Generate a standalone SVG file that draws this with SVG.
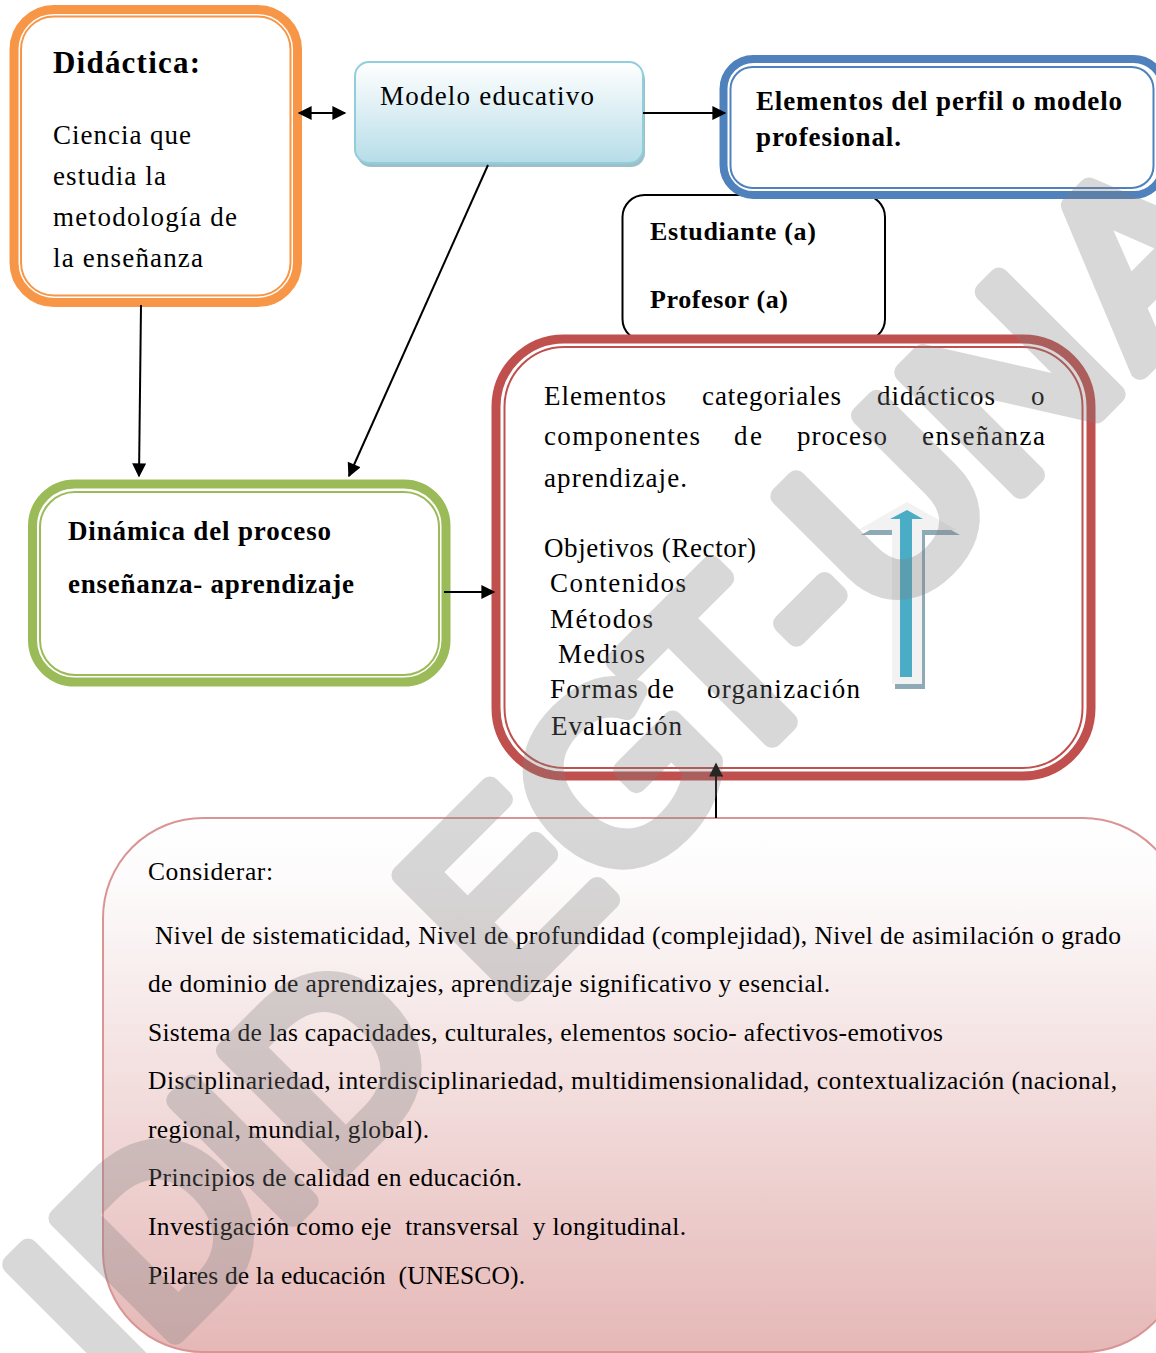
<svg xmlns="http://www.w3.org/2000/svg" width="1156" height="1353" viewBox="0 0 1156 1353">
  <defs>
    <linearGradient id="gradModelo" x1="0" y1="0" x2="0" y2="1">
      <stop offset="0" stop-color="#ffffff"/>
      <stop offset="0.45" stop-color="#dff0f5"/>
      <stop offset="1" stop-color="#b6dde8"/>
    </linearGradient>
    <linearGradient id="gradConsiderar" x1="0" y1="0" x2="0" y2="1">
      <stop offset="0" stop-color="#ffffff"/>
      <stop offset="0.12" stop-color="#fdfbfb"/>
      <stop offset="1" stop-color="#e5b8b7"/>
    </linearGradient>
    <marker id="head" viewBox="0 0 10 10" refX="9" refY="5" markerWidth="15" markerHeight="14" markerUnits="userSpaceOnUse" orient="auto-start-reverse">
      <path d="M0,0 L10,5 L0,10 z" fill="#000"/>
    </marker>
    <style>
      .t { font-family: "Liberation Serif", "DejaVu Serif", serif; fill: #000; }
      .b { font-weight: bold; }
      .conn { fill: none; stroke: #000; stroke-width: 2; marker-end: url(#head); }
      .thin { fill: none; stroke-width: 2; }
      .wm { font-family: "Liberation Sans", Arial, sans-serif; font-size: 240px; fill: #7f7f7f; stroke: #7f7f7f; stroke-width: 20; stroke-linejoin: round; }
    </style>
  </defs>

  <rect width="1156" height="1353" fill="#ffffff"/>

  <!-- Didáctica -->
  <g id="didactica">
    <rect x="14" y="9.5" width="283.5" height="293" rx="40" fill="#fff" stroke="#f79646" stroke-width="9"/>
    <rect x="21" y="16.5" width="269.5" height="279" rx="33" class="thin" stroke="#f79646"/>
    <text class="t b" x="53" y="73" font-size="31" textLength="147">Didáctica:</text>
    <text class="t" font-size="27">
      <tspan x="53" y="144" textLength="138">Ciencia que</tspan>
      <tspan x="53" y="185" textLength="113">estudia la</tspan>
      <tspan x="53" y="226" textLength="184">metodología de</tspan>
      <tspan x="53" y="267" textLength="150">la enseñanza</tspan>
    </text>
  </g>

  <!-- Modelo educativo -->
  <g id="modelo">
    <rect x="357" y="66" width="288" height="101" rx="14" fill="#9dbfca"/>
    <rect x="355" y="62" width="288" height="101" rx="14" fill="url(#gradModelo)" stroke="#92cddc" stroke-width="2"/>
    <text class="t" x="380" y="105" font-size="27" textLength="214">Modelo educativo</text>
  </g>

  <!-- Estudiante / Profesor -->
  <g id="actores">
    <rect x="622.5" y="195" width="262.5" height="146" rx="22" fill="#fff" stroke="#000" stroke-width="2"/>
    <text class="t b" font-size="26">
      <tspan x="650" y="240" textLength="166">Estudiante (a)</tspan>
      <tspan x="650" y="308" textLength="138">Profesor (a)</tspan>
    </text>
  </g>

  <!-- Elementos del perfil -->
  <g id="perfil">
    <rect x="723.5" y="59" width="440" height="136" rx="30" fill="#fff" stroke="#4f81bd" stroke-width="8"/>
    <rect x="730.5" y="67" width="423" height="121" rx="22" class="thin" stroke="#4f81bd"/>
    <text class="t b" font-size="27">
      <tspan x="756" y="110" textLength="366">Elementos del perfil o modelo</tspan>
      <tspan x="756" y="146" textLength="145">profesional.</tspan>
    </text>
  </g>

  <!-- Dinámica del proceso -->
  <g id="dinamica">
    <rect x="32.5" y="484" width="413.5" height="198" rx="42" fill="#fff" stroke="#9bbb59" stroke-width="9"/>
    <rect x="40" y="492" width="399" height="183" rx="35" class="thin" stroke="#9bbb59"/>
    <text class="t b" font-size="27">
      <tspan x="68" y="540" textLength="263">Dinámica del proceso</tspan>
      <tspan x="68" y="593" textLength="286">enseñanza- aprendizaje</tspan>
    </text>
  </g>

  <!-- Elementos categoriales -->
  <g id="categoriales">
    <rect x="496" y="339" width="595" height="437" rx="68" fill="#fff" stroke="#c0504d" stroke-width="9"/>
    <rect x="504.5" y="347" width="578" height="421" rx="60" class="thin" stroke="#c0504d"/>
    <text class="t" font-size="27">
      <tspan x="544" y="405" textLength="122">Elementos</tspan>
      <tspan x="702" y="405" textLength="139">categoriales</tspan>
      <tspan x="877" y="405" textLength="118">didácticos</tspan>
      <tspan x="1031" y="405">o</tspan>
      <tspan x="544" y="445" textLength="156">componentes</tspan>
      <tspan x="734" y="445" textLength="28">de</tspan>
      <tspan x="797" y="445" textLength="90">proceso</tspan>
      <tspan x="922" y="445" textLength="123">enseñanza</tspan>
      <tspan x="544" y="487" textLength="143">aprendizaje.</tspan>
      <tspan x="544" y="557" textLength="212">Objetivos (Rector)</tspan>
      <tspan x="550" y="592" textLength="136">Contenidos</tspan>
      <tspan x="550" y="628" textLength="103">Métodos</tspan>
      <tspan x="558" y="663" textLength="87">Medios</tspan>
      <tspan x="550" y="698" textLength="124">Formas de</tspan>
      <tspan x="707" y="698" textLength="153">organización</tspan>
      <tspan x="551" y="735" textLength="131">Evaluación</tspan>
    </text>
    <!-- upward arrow with soft halo -->
    <polygon points="910,507 960,535 925,535 925,689 895,689 895,535 861,535" fill="#8eaab7"/>
    <polygon points="907,502 957,530 922,530 922,684 892,684 892,530 858,530" fill="#f2f2f2"/>
    <polygon points="907,510 923,519 912,519 912,677 900,677 900,519 890,519" fill="#4bacc6"/>
  </g>

  <!-- Considerar -->
  <g id="considerar">
    <rect x="103" y="818" width="1080" height="534" rx="100" fill="url(#gradConsiderar)" stroke="#d99594" stroke-width="2"/>
    <text class="t" font-size="25.5" xml:space="preserve"><tspan x="148" y="880" textLength="125">Considerar:</tspan><tspan x="155" y="944" textLength="966">Nivel de sistematicidad, Nivel de profundidad (complejidad), Nivel de asimilación o grado</tspan><tspan x="148" y="992" textLength="682">de dominio de aprendizajes, aprendizaje significativo y esencial.</tspan><tspan x="148" y="1041" textLength="795">Sistema de las capacidades, culturales, elementos socio- afectivos-emotivos</tspan><tspan x="148" y="1089" textLength="969">Disciplinariedad, interdisciplinariedad, multidimensionalidad, contextualización (nacional,</tspan><tspan x="148" y="1138" textLength="281">regional, mundial, global).</tspan><tspan x="148" y="1186" textLength="374">Principios de calidad en educación.</tspan><tspan x="148" y="1235" textLength="538">Investigación como eje  transversal  y longitudinal.</tspan><tspan x="148" y="1284" textLength="377">Pilares de la educación  (UNESCO).</tspan></text>
  </g>

  <!-- Connectors -->
  <g id="connectors">
    <path class="conn" d="M299,113 L345,113" style="marker-start:url(#head)"/>
    <path class="conn" d="M643,113 L725,113"/>
    <path class="conn" d="M141,305 L139,476"/>
    <path class="conn" d="M488,165 L349,476"/>
    <path class="conn" d="M444,592 L494,592"/>
    <path class="conn" d="M716,818 L716,764"/>
  </g>

  <!-- Watermark, laid diagonally over the page -->
  <g id="watermark" opacity="0.3">
    <text class="wm" transform="translate(0,1510) rotate(-45)" x="160 228 392 465 713 865 1030 1170 1250 1424 1612" y="0">IDIDEGT-UNA</text>
  </g>
</svg>
